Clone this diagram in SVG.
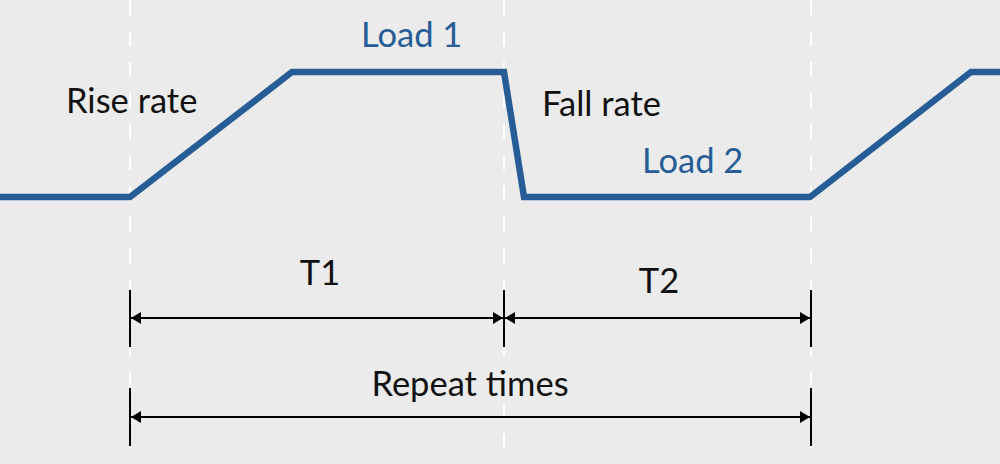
<svg xmlns="http://www.w3.org/2000/svg" width="1000" height="464" viewBox="0 0 1000 464">
<style>
.guide{stroke:#ffffff;stroke-width:2;stroke-dasharray:15 16;fill:none}
.wave{stroke:#265d97;stroke-width:6.5;fill:none;stroke-linejoin:miter}
.dim{stroke:#000;stroke-width:2;fill:none}
.tick{stroke:#000;stroke-width:2}
.lbl{font-family:Lato,"Liberation Sans",sans-serif;font-size:34.5px;fill:#111}
.blue{fill:#265d97}
</style>
<defs>
<marker id="ah" viewBox="0 0 10 12" refX="10" refY="6" markerWidth="10" markerHeight="12" markerUnits="userSpaceOnUse" orient="auto-start-reverse">
<path d="M0,0 L10,6 L0,12 Z" fill="#000"/>
</marker>
</defs>
<rect width="1000" height="464" fill="#ebebeb"/>
<g id="guides">
<line class="guide" x1="130" y1="0" x2="130" y2="464"/>
<line class="guide" x1="504" y1="0" x2="504" y2="464"/>
<line class="guide" x1="811" y1="0" x2="811" y2="464"/>
</g>
<g id="waveform">
<polyline class="wave" points="0,197 130,197 292,72 504,72 524,197 810,197 971,72 1000,72"/>
</g>
<g id="connectors">
<line class="tick" x1="130" y1="290" x2="130" y2="347"/>
<line class="tick" x1="504" y1="290" x2="504" y2="347"/>
<line class="tick" x1="811" y1="290" x2="811" y2="347"/>
<line class="tick" x1="130" y1="388" x2="130" y2="446"/>
<line class="tick" x1="811" y1="388" x2="811" y2="446"/>
<line class="dim" x1="131" y1="318" x2="503" y2="318" marker-start="url(#ah)" marker-end="url(#ah)"/>
<line class="dim" x1="505" y1="318" x2="810" y2="318" marker-start="url(#ah)" marker-end="url(#ah)"/>
<line class="dim" x1="131" y1="417" x2="810" y2="417" marker-start="url(#ah)" marker-end="url(#ah)"/>
</g>
<g id="labels">
<text class="lbl" x="66" y="113">Rise rate</text>
<text class="lbl blue" x="361" y="47">Load 1</text>
<text class="lbl" x="542" y="116">Fall rate</text>
<text class="lbl blue" x="642" y="173">Load 2</text>
<text class="lbl" x="320" y="285" text-anchor="middle">T1</text>
<text class="lbl" x="659" y="293" text-anchor="middle">T2</text>
<text class="lbl" x="470" y="396" text-anchor="middle">Repeat times</text>
</g>
</svg>
